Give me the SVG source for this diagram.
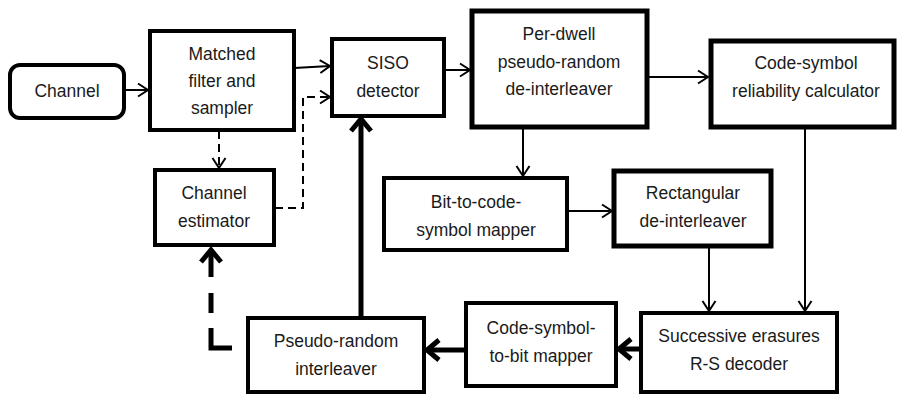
<svg xmlns="http://www.w3.org/2000/svg" width="897" height="394" viewBox="0 0 897 394">
<style>
.box{fill:#fff;stroke:#000;stroke-width:4}
.bx5{stroke-width:5}
text{font-family:"Liberation Sans",Arial,sans-serif;font-size:17.5px;fill:#1a1a1a;text-anchor:middle}
.c{fill:none;stroke:#000;stroke-width:2}
.d{stroke-dasharray:8 5}
.t{stroke-width:5}
.td{stroke-width:5;stroke-dasharray:41 15 20 16 27 16;stroke-dashoffset:119}
</style>
<defs>
<marker id="a" markerUnits="userSpaceOnUse" markerWidth="20" markerHeight="20" refX="10" refY="6.5" orient="auto" overflow="visible">
<path d="M0,0 L10,6.5 L0,13" fill="none" stroke="#000" stroke-width="2"/>
</marker>
<marker id="b" markerUnits="userSpaceOnUse" markerWidth="24" markerHeight="24" refX="12" refY="10" orient="auto" overflow="visible">
<path d="M0,0 L12,10 L0,20" fill="none" stroke="#000" stroke-width="5"/>
</marker>
</defs>
<g id="connectors">
<path class="c" d="M124,90 L148,90" marker-end="url(#a)"/>
<path class="c" d="M294,68 L330,66" marker-end="url(#a)"/>
<path class="c d" d="M219,131 L219,168" marker-end="url(#a)"/>
<path class="c d" d="M275,208 L303,208 L303,97 L330,97" marker-end="url(#a)"/>
<path class="c" d="M444,70 L470,70" marker-end="url(#a)"/>
<path class="c" d="M647,77 L708,77" marker-end="url(#a)"/>
<path class="c" d="M523,127 L523,176" marker-end="url(#a)"/>
<path class="c" d="M567,211 L612,211" marker-end="url(#a)"/>
<path class="c" d="M709,246 L709,311" marker-end="url(#a)"/>
<path class="c" d="M805,127 L805,311" marker-end="url(#a)"/>
<path class="c t" d="M641,349 L619,349" marker-end="url(#b)"/>
<path class="c t" d="M466,350 L427,350" marker-end="url(#b)"/>
<path class="c t" d="M361,318 L361,119" marker-end="url(#b)"/>
<path class="c td" d="M248,348 L211,348 L211,250" marker-end="url(#b)"/>
</g>
<g id="channel">
<rect class="box" x="10" y="65" width="114" height="53" rx="10"/>
<text x="67" y="97">Channel</text>
</g>
<g id="matched-filter">
<rect class="box" x="150" y="31" width="144" height="99"/>
<text x="222" y="60">Matched</text>
<text x="222" y="87">filter and</text>
<text x="222" y="114">sampler</text>
</g>
<g id="siso">
<rect class="box" x="332" y="39" width="112" height="77"/>
<text x="388" y="69">SISO</text>
<text x="388" y="97">detector</text>
</g>
<g id="per-dwell">
<rect class="box bx5" x="472" y="11" width="175" height="116"/>
<text x="559" y="40">Per-dwell</text>
<text x="559" y="68">pseudo-random</text>
<text x="559" y="95">de-interleaver</text>
</g>
<g id="reliability">
<rect class="box bx5" x="711" y="41" width="183" height="86"/>
<text x="806" y="69">Code-symbol</text>
<text x="806" y="97">reliability calculator</text>
</g>
<g id="channel-estimator">
<rect class="box" x="155" y="170" width="119" height="75"/>
<text x="214" y="199">Channel</text>
<text x="214" y="227">estimator</text>
</g>
<g id="bit-to-code">
<rect class="box" x="384" y="178" width="183" height="72"/>
<text x="476" y="208">Bit-to-code-</text>
<text x="476" y="236">symbol mapper</text>
</g>
<g id="rectangular">
<rect class="box bx5" x="614" y="171" width="157" height="75"/>
<text x="693" y="199">Rectangular</text>
<text x="693" y="227">de-interleaver</text>
</g>
<g id="rs-decoder">
<rect class="box" x="641" y="313" width="196" height="79"/>
<text x="739" y="342">Successive erasures</text>
<text x="739" y="370">R-S decoder</text>
</g>
<g id="code-to-bit">
<rect class="box" x="466" y="303" width="150" height="83"/>
<text x="541" y="334">Code-symbol-</text>
<text x="541" y="362">to-bit mapper</text>
</g>
<g id="pseudo-interleaver">
<rect class="box" x="248" y="318" width="176" height="74"/>
<text x="336" y="347">Pseudo-random</text>
<text x="336" y="375">interleaver</text>
</g>
</svg>
